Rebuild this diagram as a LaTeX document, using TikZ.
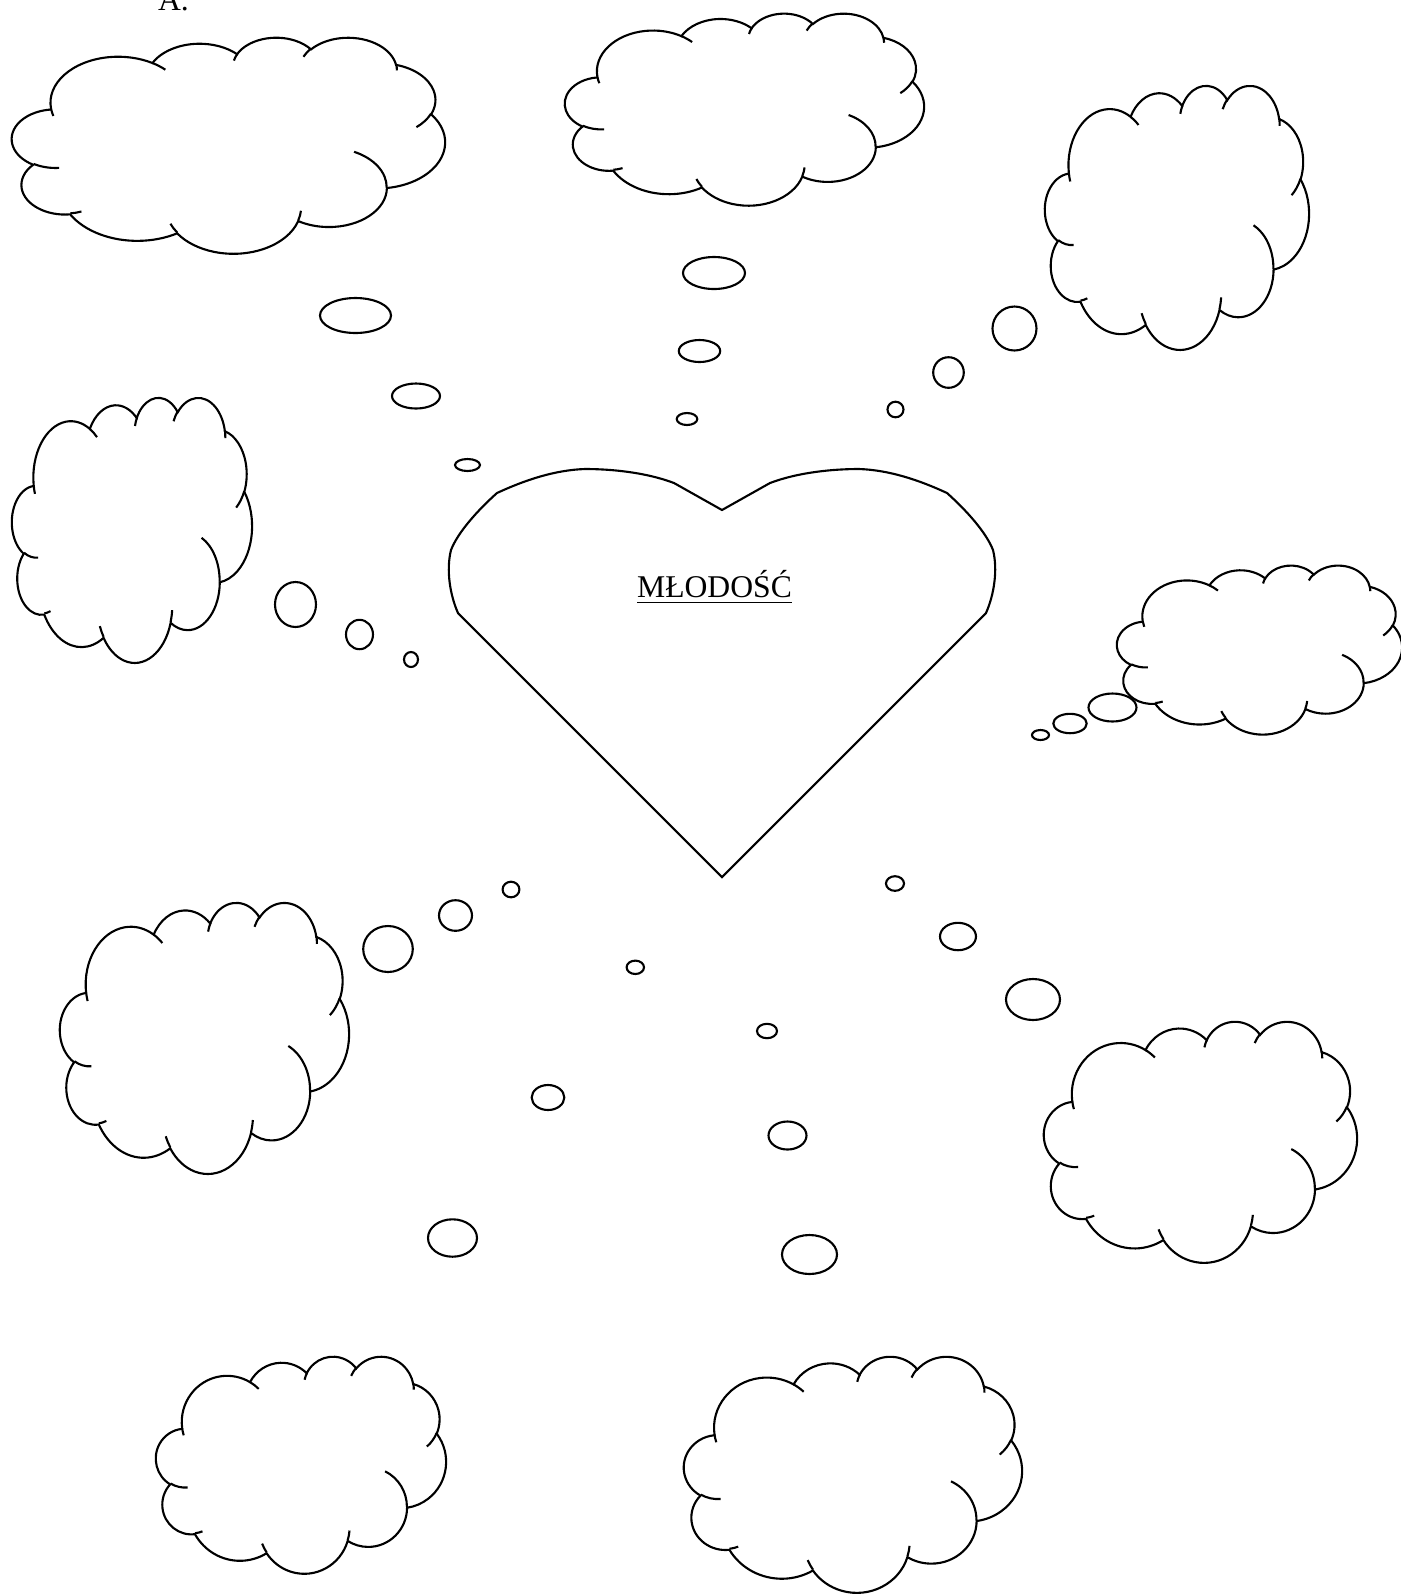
\documentclass[tikz,border=0pt]{standalone}
\usepackage{fontspec}
\setmainfont{Liberation Serif}
\tikzset{
  puff/.style n args={4}{x radius=#1,y radius=#2,
    start angle={atan2(#1*sin(#3),#2*cos(#3))},
    delta angle={mod(atan2(#1*sin(#3+#4),#2*cos(#3+#4))-atan2(#1*sin(#3),#2*cos(#3))+720,360)}},
  napis/.style={inner sep=0pt,font=\fontsize{9}{11}\selectfont},
}
\newcommand\chmurka[4]{%
\begin{scope}[shift={(#1,#2)},xscale=#3/43.2,yscale=#4/43.2]
\draw (3.900,14.370) arc[puff={6.753}{9.190}{-190.4875}{123.7805}]
  arc[puff={5.333}{7.267}{-144.1024}{89.9452}]
  arc[puff={4.365}{5.945}{-145.8079}{99.7230}]
  arc[puff={4.857}{6.595}{-130.9861}{117.2417}]
  arc[puff={5.333}{7.273}{-78.7089}{109.0269}]
  arc[puff={6.775}{9.220}{-46.2673}{130.2690}]
  arc[puff={5.785}{7.867}{0.6250}{114.0333}]
  arc[puff={6.752}{9.215}{22.4516}{115.1726}]
  arc[puff={7.720}{10.543}{66.2426}{75.7110}]
  arc[puff={4.360}{5.918}{-274.9421}{146.7356}]
  arc[puff={4.345}{5.945}{-246.8285}{152.5189}] -- cycle;
\draw (4.693,26.177) arc[puff={4.345}{5.945}{86.7420}{26.4295}]
  (6.928,34.899) arc[puff={4.360}{5.918}{73.6105}{11.4475}]
  (16.478,39.090) arc[puff={6.752}{9.215}{137.6242}{14.0811}]
  (28.827,34.751) arc[puff={6.752}{9.215}{6.4533}{15.9984}]
  (34.129,22.954) arc[puff={5.785}{7.867}{-70.2924}{70.9174}]
  (41.798,15.354) arc[puff={5.333}{7.273}{30.3180}{27.7515}]
  (38.324,5.426) arc[puff={4.857}{6.595}{-13.7443}{14.8589}]
  (29.078,3.952) arc[puff={4.857}{6.595}{-149.1815}{18.1954}]
  (22.141,4.720) arc[puff={4.365}{5.945}{-163.4943}{17.6864}]
  (14.000,5.192) arc[puff={6.753}{9.190}{-66.7070}{12.3194}]
  (4.127,15.789) arc[puff={6.753}{9.190}{157.6544}{11.8582}];
\end{scope}}

\begin{document}
\begin{tikzpicture}[x=0.01cm,y=-0.01cm,line width=0.6pt]
\useasboundingbox (0,0) rectangle (1401,1596);
\node[napis,anchor=base west] (litera) at (157,10) {A.};

\chmurka{12}{37}{433}{216}
\chmurka{565}{13}{359}{192}
\chmurka{1045}{85}{264}{264}
\chmurka{12}{397}{240}{265}
\chmurka{1117}{565}{285}{169}
\chmurka{60}{902}{289}{271}
\chmurka{1044}{1021}{313}{241}
\chmurka{156}{1356}{290}{217}
\chmurka{684}{1356}{338}{236}

\foreach \x/\y/\a/\b in {355.5/315.5/35.5/17.5, 416/396/24/12.5, 467.5/465/12.5/6,
  714/273/31/16, 699.5/351/20.7/11, 687/419/10.3/6,
  1014.5/328.5/22/22, 948.5/372.5/15.3/15.3, 895.5/409.5/8/7.8,
  295.5/604.5/20.5/22.5, 359.5/634.5/13.5/14.7, 411/659.5/7/7.5,
  1112.5/707.5/24/14, 1070/723.5/16.7/9.7, 1040.5/735/8.5/5,
  388/949/24.8/23, 455.5/915.5/16.5/15.3, 511/889.5/8.4/7.8,
  1033/999.5/27/20.5, 958/936.5/18/13.7, 895/883.5/9/7.3,
  452.5/1238/24.5/18.7, 548/1097.5/16.3/12.5, 635.3/967.3/8.7/6.7,
  809.5/1254.5/27.5/19.5, 787.5/1135.5/19/14, 767/1031/10/7.2}
  \draw (\x,\y) ellipse[x radius=\a,y radius=\b];

\draw (722,510) -- (674,483) .. controls (645,472) and (610,469) .. (585,469)
  .. controls (555,470) and (525,480) .. (497,493)
  .. controls (478,510) and (458,532) .. (451,550)
  .. controls (446,570) and (450,595) .. (458,613) -- (722,877) -- (986,613)
  .. controls (994,595) and (998,570) .. (993,550)
  .. controls (986,532) and (966,510) .. (947,493)
  .. controls (919,480) and (889,470) .. (859,469)
  .. controls (834,469) and (799,472) .. (770,483) -- cycle;
\node[napis,anchor=base] (serce) at (714.5,597) {\underline{MŁODOŚĆ}};
\end{tikzpicture}
\end{document}
